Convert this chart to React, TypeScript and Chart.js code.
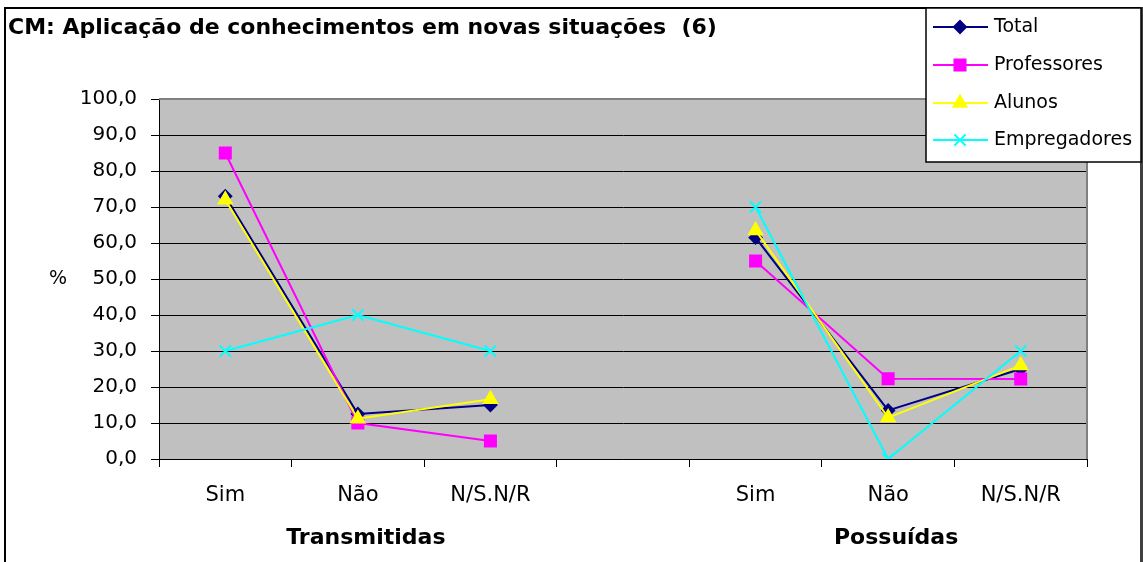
import React, { useEffect, useRef } from 'react';
import { Chart, registerables } from 'chart.js';

Chart.register(...registerables);

const titleText = 'CM: Aplicação de conhecimentos em novas situações  (6)';
const categories = ['Sim', 'Não', 'N/S.N/R', '', 'Sim', 'Não', 'N/S.N/R'];
const groupLabels = ['', 'Transmitidas', '', '', '', 'Possuídas', ''];
const seriesNames = ['Total', 'Professores', 'Alunos', 'Empregadores'];
const total = [73, 12.5, 15, null, 61.5, 13.5, 25];
const professores = [85, 10, 5, null, 55, 22.3, 22.2];
const alunos = [72, 11.2, 16.6, null, 63.5, 11.5, 26];
const empregadores = [30, 40, 30, null, 70, 0, 30];
const yMin = 0;
const yMax = 100;
const yStep = 10;
const yAxisLabel = '%';

const colors = ['#000080', '#FF00FF', '#FFFF00', '#00FFFF'];
const pointStyles = ['rectRot', 'rect', 'triangle', 'crossRot'];
const radii = [6, 7.8, 7.5, 8];
const FONT = "'DejaVu Sans', 'Liberation Sans', Arial, sans-serif";

function drawMarker(ctx: CanvasRenderingContext2D, style: string, x: number, y: number, r: number, color: string) {
  ctx.save();
  ctx.fillStyle = color;
  ctx.strokeStyle = color;
  ctx.lineWidth = 2;
  ctx.beginPath();
  if (style === 'rectRot') {
    ctx.moveTo(x - r, y);
    ctx.lineTo(x, y - r);
    ctx.lineTo(x + r, y);
    ctx.lineTo(x, y + r);
    ctx.closePath();
    ctx.fill();
    ctx.stroke();
  } else if (style === 'rect') {
    const s = Math.SQRT1_2 * r;
    ctx.rect(x - s, y - s, 2 * s, 2 * s);
    ctx.fill();
    ctx.stroke();
  } else if (style === 'triangle') {
    const a = (2 * Math.PI) / 3;
    ctx.moveTo(x, y - r);
    ctx.lineTo(x + Math.sin(a) * r, y - Math.cos(a) * r);
    ctx.lineTo(x + Math.sin(2 * a) * r, y - Math.cos(2 * a) * r);
    ctx.closePath();
    ctx.fill();
    ctx.stroke();
  } else {
    const o = Math.SQRT1_2 * r;
    ctx.moveTo(x - o, y - o);
    ctx.lineTo(x + o, y + o);
    ctx.moveTo(x + o, y - o);
    ctx.lineTo(x - o, y + o);
    ctx.stroke();
  }
  ctx.restore();
}

const decorPlugin = {
  id: 'decor',
  beforeDraw(chart: any) {
    const { ctx, chartArea } = chart;
    ctx.save();
    ctx.fillStyle = '#FFFFFF';
    ctx.fillRect(0, 0, chart.width, chart.height);
    ctx.fillStyle = '#C0C0C0';
    ctx.fillRect(chartArea.left, chartArea.top, chartArea.right - chartArea.left, chartArea.bottom - chartArea.top);
    ctx.restore();
  },
  beforeDatasetsDraw(chart: any) {
    const { ctx, chartArea } = chart;
    ctx.save();
    ctx.strokeStyle = '#808080';
    ctx.lineWidth = 2;
    ctx.beginPath();
    ctx.moveTo(chartArea.left, chartArea.top);
    ctx.lineTo(chartArea.right, chartArea.top);
    ctx.lineTo(chartArea.right, chartArea.bottom);
    ctx.stroke();
    ctx.restore();
  },
  afterDraw(chart: any) {
    const { ctx, scales } = chart;
    ctx.save();
    // outer border
    ctx.strokeStyle = '#000000';
    ctx.lineWidth = 2;
    ctx.beginPath();
    ctx.moveTo(5, chart.height + 2);
    ctx.lineTo(5, 8);
    ctx.lineTo(1141, 8);
    ctx.stroke();
    ctx.strokeStyle = '#404040';
    ctx.lineWidth = 3;
    ctx.beginPath();
    ctx.moveTo(1141.5, 7);
    ctx.lineTo(1141.5, chart.height + 2);
    ctx.stroke();
    // y axis label
    ctx.fillStyle = '#000000';
    ctx.font = `19px ${FONT}`;
    ctx.textAlign = 'center';
    ctx.textBaseline = 'middle';
    const yMid = scales.y.getPixelForValue(50);
    ctx.fillText(yAxisLabel, 58, yMid);
    // legend
    const lx = 926, ly = 8, lw = 215, lh = 154;
    ctx.fillStyle = '#FFFFFF';
    ctx.fillRect(lx, ly, lw, lh);
    ctx.strokeStyle = '#000000';
    ctx.lineWidth = 1.5;
    ctx.strokeRect(lx, ly, lw, lh);
    const rowY = [27, 65, 103, 140];
    seriesNames.forEach((name, i) => {
      const y = rowY[i];
      ctx.strokeStyle = colors[i];
      ctx.lineWidth = 2;
      ctx.beginPath();
      ctx.moveTo(933, y);
      ctx.lineTo(988, y);
      ctx.stroke();
      drawMarker(ctx, pointStyles[i], 960, y, radii[i], colors[i]);
      ctx.fillStyle = '#000000';
      ctx.font = `19px ${FONT}`;
      ctx.textAlign = 'left';
      ctx.textBaseline = 'middle';
      ctx.fillText(name, 994, y);
    });
    ctx.restore();
  },
};

export default function App() {
  const canvasRef = useRef<HTMLCanvasElement | null>(null);

  useEffect(() => {
    const canvas = canvasRef.current;
    if (!canvas) return;
    const seriesData = [total, professores, alunos, empregadores];
    const chart = new Chart(canvas, {
      type: 'line',
      data: {
        labels: categories,
        datasets: seriesNames.map((name, i) => ({
          label: name,
          data: seriesData[i],
          borderColor: colors[i],
          backgroundColor: colors[i],
          pointBackgroundColor: colors[i],
          pointBorderColor: colors[i],
          pointStyle: pointStyles[i] as any,
          pointRadius: radii[i],
          pointBorderWidth: 2,
          borderWidth: 2,
          tension: 0,
          spanGaps: false,
          order: 4 - i,
          xAxisID: 'x',
          yAxisID: 'y',
        })),
      },
      options: {
        responsive: false,
        animation: false,
        devicePixelRatio: 1,
        layout: { padding: { left: 8, right: 56, top: 0, bottom: 0 } },
        plugins: {
          legend: { display: false },
          tooltip: { enabled: false },
          title: {
            display: true,
            text: titleText,
            align: 'start',
            color: '#000000',
            font: { family: FONT, size: 22, weight: 'bold', lineHeight: 1.2 },
            padding: { top: 15, bottom: 57.6 },
          },
        },
        scales: {
          x: {
            type: 'category',
            position: 'bottom',
            offset: true,
            grid: {
              offset: true,
              drawOnChartArea: false,
              drawTicks: true,
              tickLength: 8,
              color: '#000000',
              lineWidth: 1,
            },
            border: { display: true, color: '#000000', width: 1 },
            ticks: {
              color: '#000000',
              font: { family: FONT, size: 21 },
              padding: 16,
              maxRotation: 0,
              autoSkip: false,
            },
            afterFit: (scale: any) => {
              scale.height = 46;
            },
          },
          x2: {
            type: 'category',
            position: 'bottom',
            labels: groupLabels,
            offset: true,
            grid: { display: false, drawTicks: false, drawOnChartArea: false },
            border: { display: false },
            ticks: {
              color: '#000000',
              font: { family: FONT, size: 22, weight: 'bold' },
              padding: 20,
              labelOffset: 8,
              maxRotation: 0,
              autoSkip: false,
            },
            afterFit: (scale: any) => {
              scale.height = 57;
            },
          },
          y: {
            type: 'linear',
            position: 'left',
            min: yMin,
            max: yMax,
            grid: {
              color: (c: any) => (c.tick && c.tick.value === yMax ? '#808080' : '#000000'),
              lineWidth: 1,
              drawTicks: true,
              tickLength: 8,
              tickColor: '#000000',
            },
            border: { display: true, color: '#000000', width: 1 },
            ticks: {
              stepSize: yStep,
              color: '#000000',
              font: { family: FONT, size: 20 },
              padding: 14,
              callback: (v: any) => Number(v).toFixed(1).replace('.', ','),
            },
            afterFit: (scale: any) => {
              scale.width = 151;
            },
          },
        },
      },
      plugins: [decorPlugin],
    });
    return () => chart.destroy();
  }, []);

  return (
    <div style={{ position: 'absolute', left: 0, top: 0, width: 1143, height: 562 }}>
      <canvas ref={canvasRef} width={1143} height={562} style={{ display: 'block' }} />
    </div>
  );
}
